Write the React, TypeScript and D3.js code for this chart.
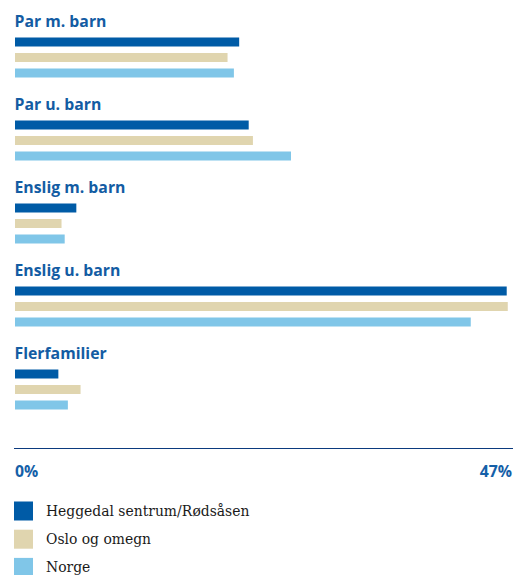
import React from "react";
import * as d3 from "d3";

const categories = ["Par m. barn", "Par u. barn", "Enslig m. barn", "Enslig u. barn", "Flerfamilier"];
const seriesNames = ["Heggedal sentrum/Rødsåsen", "Oslo og omegn", "Norge"];
const heggedal = [21.2, 22.1, 5.8, 46.5, 4.1];
const oslo = [20.1, 22.5, 4.4, 46.6, 6.2];
const norge = [20.7, 26.1, 4.7, 43.1, 5.0];
const seriesColors = ["#005BA6", "#E0D5AF", "#80C6E8"];
const axisMax = 47;
const tickLabels = ["0%", "47%"];

const W = 520;
const H = 575;

export default function App() {
  const series = [heggedal, oslo, norge];
  const x = d3.scaleLinear().domain([0, axisMax]).range([15, 512]);
  const groupY = d3.scaleBand<string>().domain(categories).range([6, 421]).paddingInner(0).paddingOuter(0);
  const sans = "'Open Sans', sans-serif";
  const serif = "'DejaVu Serif', serif";
  return (
    <svg width={W} height={H} style={{ position: "absolute", left: 0, top: 0 }}>
      <rect width={W} height={H} fill="#fff" />
      {categories.map((c, i) => {
        const gy = groupY(c)!;
        return (
          <g key={c}>
            <text x={14.5} y={gy + 20.8} fill="#135CA3" fontFamily={sans} fontWeight={700} fontSize={15.8}>
              {c}
            </text>
            {series.map((s, j) => (
              <rect key={j} x={x(0)} y={gy + 31.5 + j * 15.5} width={x(s[i]) - x(0)} height={9} fill={seriesColors[j]} />
            ))}
          </g>
        );
      })}
      <line x1={14} x2={513} y1={448.5} y2={448.5} stroke="#0B3A7E" strokeWidth={1.2} />
      <text x={x(0)} y={476.5} fill="#1560A8" fontFamily={sans} fontWeight={700} fontSize={15.8}>
        {tickLabels[0]}
      </text>
      <text x={x(axisMax)} y={476.5} textAnchor="end" fill="#1560A8" fontFamily={sans} fontWeight={700} fontSize={15.8}>
        {tickLabels[1]}
      </text>
      {seriesNames.map((n, j) => (
        <g key={n}>
          <rect x={14} y={501.5 + j * 28.2} width={19} height={19} fill={seriesColors[j]} />
          <text x={46} y={516 + j * 28.2} fill="#1a1a1a" fontFamily={serif} fontSize={13.9}>
            {n}
          </text>
        </g>
      ))}
    </svg>
  );
}
